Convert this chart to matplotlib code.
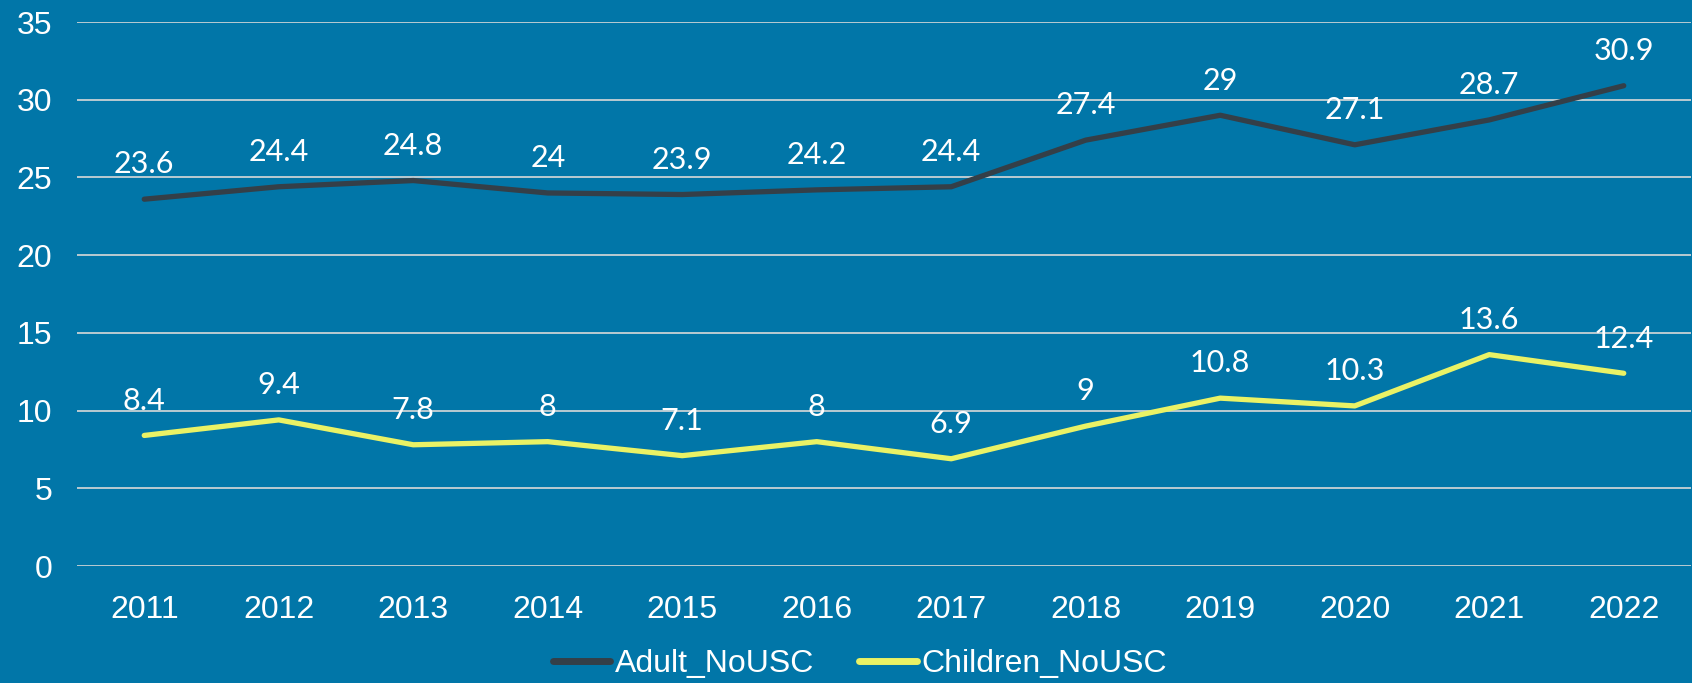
import matplotlib
matplotlib.use('Agg')
import matplotlib.pyplot as plt

years = ['2011', '2012', '2013', '2014', '2015', '2016', '2017', '2018', '2019', '2020', '2021', '2022']
adult = [23.6, 24.4, 24.8, 24, 23.9, 24.2, 24.4, 27.4, 29, 27.1, 28.7, 30.9]
children = [8.4, 9.4, 7.8, 8, 7.1, 8, 6.9, 9, 10.8, 10.3, 13.6, 12.4]
yticks = [0, 5, 10, 15, 20, 25, 30, 35]

bg = '#0176A8'
dark = '#343F48'
yellow = '#EAF265'

fig = plt.figure(figsize=(16.92, 6.83), dpi=100, facecolor=bg)
ax = fig.add_axes([77/1692, 1-566/683, (1691-77)/1692, (566-22)/683])
ax.set_facecolor(bg)

x = list(range(len(years)))
ax.plot(x, adult, color=dark, lw=3.8, solid_capstyle='round', label='Adult_NoUSC', zorder=3)
ax.plot(x, children, color=yellow, lw=3.8, solid_capstyle='round', label='Children_NoUSC', zorder=3)

def fmt(v):
	return ('%g' % v)

# data labels above each point
for i in x:
	for series in (adult, children):
		ax.annotate(fmt(series[i]), (i, series[i]), xytext=(0, 25), textcoords='offset points',
			ha='center', va='center', color='white', fontsize=22, family='Lato')

ax.set_xlim(-0.5, len(years) - 0.5)
ax.set_ylim(0, 35)
ax.set_yticks(yticks)
ax.set_xticks(x)
ax.set_xticklabels(years)
ax.grid(True, axis='y', color='#D9D9D9', lw=1.2)
ax.set_axisbelow(True)
for s in ax.spines.values():
	s.set_visible(False)
ax.tick_params(length=0, colors='white', labelsize=23)
ax.tick_params(axis='x', pad=21)
ax.tick_params(axis='y', pad=18)
for t in ax.get_xticklabels() + ax.get_yticklabels():
	t.set_family('Liberation Sans')

leg = fig.legend(loc='center', bbox_to_anchor=(860/1692, 1-664/683), ncol=2, frameon=False,
	prop={'family': 'Liberation Sans', 'size': 23}, handlelength=1.8, handletextpad=0.15,
	columnspacing=1.4)
for t in leg.get_texts():
	t.set_color('white')
for h in leg.get_lines():
	h.set_linewidth(5)

plt.savefig('out.png', dpi=100, facecolor=bg)
plt.close()
